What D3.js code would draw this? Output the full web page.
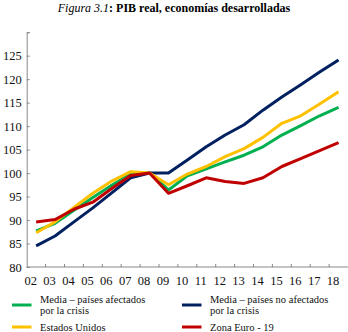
<!DOCTYPE html>
<html><head><meta charset="utf-8">
<script src="https://cdn.jsdelivr.net/npm/d3@7/dist/d3.min.js"></script>
<style>body{margin:0;background:#fff}svg{display:block}</style>
</head><body>
<svg id="c" width="348" height="332"></svg>
<script>
const years = ["02","03","04","05","06","07","08","09","10","11","12","13","14","15","16","17","18"];
const afectados   = [87.7, 89.3, 92.1, 94.8, 97.4, 99.8, 100, 96.4, 99.4, 100.9, 102.4, 103.8, 105.6, 108.1, 110.1, 112.2, 114.0];
const noAfectados = [84.5, 86.6, 89.6, 92.6, 95.8, 99.0, 100, 100, 102.8, 105.6, 108.1, 110.3, 113.4, 116.2, 118.8, 121.5, 124.1];
const eeuu        = [87.3, 89.6, 92.7, 95.7, 98.3, 100.3, 100, 97.5, 99.8, 101.4, 103.5, 105.2, 107.6, 110.6, 112.2, 114.7, 117.3];
const zonaEuro    = [89.6, 90.1, 92.3, 93.8, 96.7, 99.5, 100, 95.7, 97.3, 99.0, 98.2, 97.8, 99.0, 101.4, 103.1, 104.8, 106.5];
const yTicks = [80, 85, 90, 95, 100, 105, 110, 115, 120, 125, 130];
const series = [
  {name:"afectados", values:afectados, color:"#00B050"},
  {name:"noAfectados", values:noAfectados, color:"#002060"},
  {name:"eeuu", values:eeuu, color:"#FFC000"},
  {name:"zonaEuro", values:zonaEuro, color:"#C00000"}
];
const FONT = "Liberation Serif";
const svg = d3.select("#c").attr("font-family", FONT);
const x = d3.scaleBand().domain(years).range([26.7, 348]);
const y = d3.scaleLinear().domain([80, 130]).range([267, 32.2]);
const axisColor = "#888";

// title
const t = svg.append("text").attr("x", 174).attr("y", 12).attr("text-anchor","middle")
  .attr("font-size", 12).attr("font-family", FONT);
t.append("tspan").attr("font-style","italic").text("Figura 3.1");
t.append("tspan").attr("font-weight","bold").text(": PIB real, economías desarrolladas");

// y axis
const ya = svg.append("g").attr("transform","translate(26.7,0)")
  .call(d3.axisLeft(y).tickValues(yTicks).tickSize(-3).tickPadding(5).tickFormat(d => d === 130 ? "" : d))
  .attr("font-family", FONT);
ya.select(".domain").attr("stroke", axisColor);
ya.selectAll(".tick line").attr("stroke", axisColor);
ya.selectAll(".tick text").attr("font-size", 12.5).attr("fill","#111").attr("font-family", FONT).attr("x",-5);

// x axis
const xa = svg.append("g").attr("transform","translate(0,267)");
xa.append("line").attr("x1", 26.7).attr("x2", 348).attr("y1",0).attr("y2",0).attr("stroke", axisColor);
xa.selectAll("line.tk").data(years.slice(1)).join("line").attr("class","tk")
  .attr("x1", d => x(d)).attr("x2", d => x(d)).attr("y1", 0).attr("y2", -3).attr("stroke", axisColor);
xa.selectAll("text").data(years).join("text")
  .attr("x", d => x(d) + 4).attr("y", 18).attr("text-anchor","middle").attr("font-size", 12.5)
  .attr("fill","#111").attr("font-family", FONT).text(d => d);

// lines
const line = d3.line().x((d,i) => x(years[i]) + x.bandwidth()/2).y(d => y(d));
svg.selectAll("path.s").data(series).join("path").attr("class","s")
  .attr("d", d => line(d.values)).attr("fill","none").attr("stroke", d => d.color)
  .attr("stroke-width", 3).attr("stroke-linejoin","round");

// legend
const leg = [
  {color:"#00B050", lines:["Media – países afectados","por la crisis"], x:12, y:305},
  {color:"#002060", lines:["Media – países no afectados","por la crisis"], x:182, y:305},
  {color:"#FFC000", lines:["Estados Unidos"], x:12, y:327},
  {color:"#C00000", lines:["Zona Euro - 19"], x:182, y:327}
];
leg.forEach(l => {
  svg.append("line").attr("x1", l.x).attr("x2", l.x+19.5).attr("y1", l.y).attr("y2", l.y)
    .attr("stroke", l.color).attr("stroke-width", 3);
  if (l.lines.length === 2) {
    l.lines.forEach((s, i) => {
      svg.append("text").attr("x", l.x+28).attr("y", l.y - 2.5 + i*11)
        .attr("font-size", 10.5).attr("fill","#111").attr("font-family", FONT).text(s);
    });
  } else {
    svg.append("text").attr("x", l.x+28).attr("y", l.y + 4)
      .attr("font-size", 10.5).attr("fill","#111").attr("font-family", FONT).text(l.lines[0]);
  }
});
</script>
</body></html>
